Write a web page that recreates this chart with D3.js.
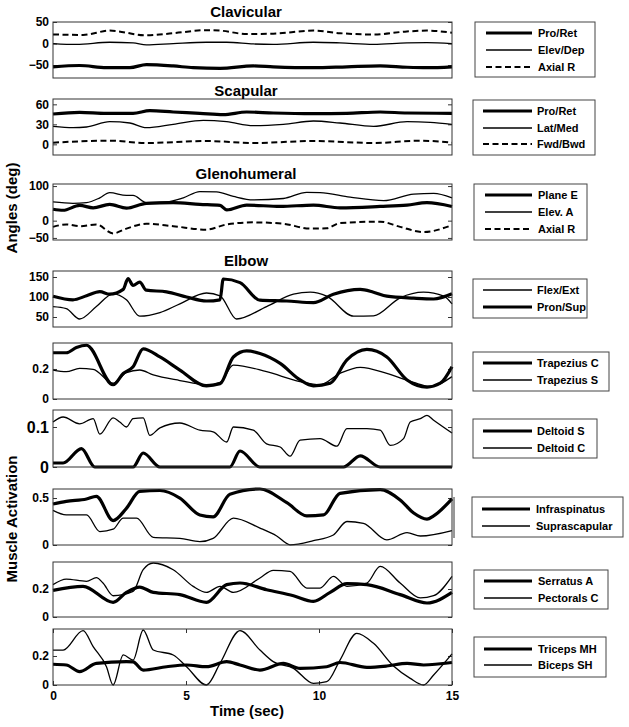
<!DOCTYPE html>
<html>
<head>
<meta charset="utf-8">
<script src="https://cdn.jsdelivr.net/npm/d3@7"></script>
<style>
  html, body { margin: 0; padding: 0; background: #fff; }
  svg { display: block; }
  text { font-family: "Liberation Sans", Arial, sans-serif; font-weight: bold; fill: #000; }
</style>
</head>
<body>
<svg id="chart" width="629" height="727"></svg>
<script>
// ---------------- DATA (time in sec, value) ----------------
const timeTicks = [0, 5, 10, 15];

// Clavicular (deg)
const clavProRet = [[0,-54],[1.0,-51],[2.01,-56],[2.89,-56],[3.51,-49],[4.52,-52],[5.27,-56],[6.28,-57.5],[7.53,-52],[8.28,-54],[9.79,-56],[11.05,-54],[12.3,-52],[13.31,-55],[14.06,-56],[15,-54]];
const clavElevDep = [[0,0],[0.88,-2],[2.13,3],[3.01,1.5],[3.51,-3],[4.52,0],[5.77,3],[6.53,3],[7.53,-1],[8.28,-2],[9.79,3],[10.79,1.5],[12.05,-2],[13.31,1.5],[14.06,2],[15,0]];
const clavAxialR = [[0,21],[1.13,20],[2.13,30],[3.51,19],[4.52,24],[5.77,31],[6.28,30],[7.28,22],[8.28,23],[9.79,30],[10.79,24],[12.05,21],[13.3,28],[14.06,30],[15,25]];

// Scapular (deg)
const scapProRet = [[0,45.5],[1.0,48],[2.01,46.5],[3.01,46.5],[3.64,50.5],[4.52,48.5],[5.52,46.5],[6.4,44.5],[7.28,48.5],[8.28,47],[9.79,46],[11.05,46.5],[12.3,48.5],[13.31,47],[15,46.5]];
const scapLatMed = [[0,27],[0.75,25],[1.26,26],[2.13,34],[2.89,32],[3.51,25],[4.52,30],[5.65,36],[6.53,34],[7.53,28],[8.66,30],[9.79,35],[10.79,32],[12.05,27],[13.31,34],[14.18,33],[15,30]];
const scapFwdBwd = [[0,2.5],[2.13,5.5],[3.51,2],[5.77,5],[7.53,2],[9.79,5],[12.05,2],[13.81,5.5],[15,2.5]];

// Glenohumeral (deg)
const ghPlaneE = [[0,33],[0.38,30],[1.0,44],[1.51,37],[2.13,47],[2.76,36],[3.51,50],[4.52,52],[5.52,47],[6.28,44],[6.53,31],[7.28,45],[8.54,41],[9.79,45],[10.79,37],[12.3,41],[13.31,45],[14.06,52],[15,41]];
const ghElevA = [[0,54],[0.75,50],[1.26,52],[1.76,66],[2.13,81],[2.76,73],[3.01,73],[3.51,52],[4.27,54],[4.9,66],[5.52,84],[6.15,83],[6.78,70],[7.53,60],[8.66,64],[9.54,82],[10.04,81],[11.17,68],[12.43,58],[13.56,77],[14.31,79],[15,66]];
const ghAxialR = [[0,-18],[0.5,-11],[1.0,-16],[1.63,-11],[2.26,-37],[2.76,-23],[3.51,-9],[4.52,-16],[5.77,-26],[6.53,-11],[7.53,-5],[8.66,-9],[9.67,-23],[10.29,-22],[10.79,-7],[12.3,-3],[13.05,-18],[13.93,-33],[15,-13]];

// Elbow (deg)
const elbFlexExt = [[0,76],[0.5,71],[1.0,45],[1.63,76],[2.26,108],[2.76,93],[3.26,52],[4.02,61],[4.77,83],[5.77,110],[6.28,103],[6.9,45],[8.03,76],[9.04,107],[9.67,112],[10.29,102],[11.3,52],[12.05,53],[13.05,98],[13.93,112],[14.69,102],[15,83]];
const elbPronSup = [[0,102],[0.75,93],[1.26,103],[1.76,113.5],[2.13,107],[2.64,119],[2.82,146],[3.01,129],[3.26,137],[3.51,117],[4.27,113],[5.02,100],[5.77,90],[6.28,93],[6.4,145],[7.03,136],[7.78,92],[8.79,90],[9.79,86],[10.54,107],[11.55,119],[12.05,112],[12.55,102],[13.56,97],[14.31,95],[15,108]];

// Muscle activations
const trapeziusC = [[0,0.308],[0.5,0.308],[0.88,0.343],[1.26,0.358],[2.26,0.095],[2.64,0.17],[3.01,0.215],[3.39,0.334],[4.02,0.28],[4.77,0.193],[5.77,0.088],[6.28,0.101],[6.78,0.28],[7.28,0.32],[7.78,0.303],[8.54,0.237],[9.29,0.127],[9.79,0.088],[10.42,0.105],[11.05,0.26],[11.8,0.33],[12.55,0.28],[13.31,0.127],[14.06,0.079],[14.56,0.105],[15,0.215]];
const trapeziusS = [[0,0.193],[0.5,0.182],[1.0,0.204],[1.51,0.198],[2.26,0.105],[2.76,0.176],[3.26,0.193],[3.77,0.16],[4.77,0.123],[5.77,0.095],[6.28,0.11],[6.78,0.226],[8.03,0.182],[9.29,0.116],[10.04,0.095],[10.79,0.171],[11.55,0.211],[12.55,0.171],[13.56,0.11],[14.18,0.084],[15,0.149]];

const deltoidS = [[0,0.01],[0.38,0.01],[1.07,0.046],[1.57,0],[3.01,0],[3.39,0.035],[4.02,0],[6.65,0],[7.03,0.04],[7.78,0],[10.92,0],[11.55,0.028],[12.3,0],[15,0]];
const deltoidC = [[0,0.1125],[0.38,0.125],[1.0,0.108],[1.51,0.121],[1.76,0.082],[2.26,0.123],[2.51,0.1125],[2.76,0.1],[3.01,0.121],[3.39,0.123],[3.64,0.079],[4.02,0.098],[4.77,0.11],[5.52,0.092],[6.02,0.088],[6.53,0.0625],[6.78,0.1],[7.53,0.092],[8.03,0.058],[8.54,0.05],[8.91,0.027],[9.29,0.067],[10.04,0.071],[10.67,0.052],[11.05,0.096],[11.8,0.096],[12.3,0.092],[12.68,0.054],[13.18,0.071],[13.43,0.1125],[13.81,0.121],[14.06,0.129],[14.31,0.117],[15,0.085]];

const infraspinatus = [[0,0.436],[0.5,0.464],[1.26,0.49],[1.63,0.518],[2.26,0.26],[2.76,0.39],[3.26,0.57],[4.02,0.58],[4.77,0.5],[5.52,0.32],[6.02,0.30],[6.65,0.54],[7.78,0.596],[8.79,0.45],[9.54,0.31],[10.17,0.32],[10.79,0.55],[12.3,0.59],[13.05,0.48],[13.56,0.34],[14.06,0.275],[14.31,0.31],[15,0.49]];
const suprascapular = [[0,0.368],[0.5,0.32],[1.26,0.32],[1.76,0.143],[2.26,0.168],[2.64,0.286],[3.14,0.286],[3.77,0.082],[4.77,0.071],[5.52,0.036],[6.02,0.071],[6.78,0.286],[7.78,0.18],[8.41,0.096],[8.91,0.002],[9.79,0.046],[10.54,0.107],[11.05,0.25],[11.67,0.23],[12.55,0.054],[13.31,0.132],[13.81,0.096],[15,0.154]];

const serratusA = [[0,0.19],[1.13,0.219],[2.26,0.105],[2.76,0.176],[3.26,0.214],[3.77,0.176],[4.77,0.16],[5.77,0.105],[6.53,0.231],[7.03,0.243],[8.03,0.195],[9.04,0.152],[9.79,0.112],[10.42,0.176],[11.05,0.238],[11.8,0.231],[13.05,0.16],[14.06,0.1],[15,0.176]];
const pectoralsC = [[0,0.231],[0.5,0.271],[1.26,0.255],[1.63,0.281],[1.88,0.243],[2.26,0.152],[3.01,0.183],[3.39,0.338],[3.77,0.386],[4.52,0.338],[5.27,0.219],[5.77,0.176],[6.28,0.219],[6.78,0.176],[7.78,0.279],[8.28,0.333],[8.91,0.326],[9.54,0.207],[10.04,0.207],[10.54,0.29],[11.05,0.219],[11.8,0.243],[12.3,0.362],[13.05,0.243],[13.81,0.136],[14.31,0.152],[15,0.29]];

const tricepsMH = [[0,0.143],[0.5,0.138],[1.0,0.092],[1.63,0.149],[2.76,0.161],[3.01,0.159],[3.39,0.103],[4.27,0.126],[5.02,0.138],[5.77,0.126],[6.53,0.161],[7.03,0.138],[7.78,0.103],[8.66,0.149],[9.29,0.115],[10.29,0.126],[10.79,0.155],[11.8,0.122],[12.55,0.131],[13.31,0.149],[13.93,0.138],[15,0.155]];
const bicepsSH = [[0,0.241],[0.38,0.241],[1.13,0.375],[1.51,0.264],[2.01,0.126],[2.26,0],[2.64,0.207],[3.01,0.172],[3.39,0.379],[3.77,0.241],[4.52,0.207],[5.02,0.126],[5.77,0],[6.28,0.149],[7.03,0.375],[7.78,0.241],[8.28,0.161],[9.04,0.115],[9.79,0.011],[10.29,0.023],[10.79,0.172],[11.42,0.356],[12.05,0.287],[12.8,0.131],[13.43,0.046],[13.93,0],[14.31,0.069],[15,0.214]];

// Panel titles, tick values and legend labels
const panelTitles = ["Clavicular", "Scapular", "Glenohumeral", "Elbow", "", "", "", "", ""];
const yTickValues = [[-50,0,50],[0,30,60],[-50,0,100],[50,100,150],[0,0.2],[0,0.1],[0,0.5],[0,0.2],[0,0.2]];
const yDomains = [[-80,50],[-16,68],[-56,106],[25,165],[0,0.373],[0,0.1425],[0,0.596],[0,0.393],[0,0.386]];
const legendLabels = [
  ["Pro/Ret","Elev/Dep","Axial R"],
  ["Pro/Ret","Lat/Med","Fwd/Bwd"],
  ["Plane E","Elev. A","Axial R"],
  ["Flex/Ext","Pron/Sup"],
  ["Trapezius C","Trapezius S"],
  ["Deltoid S","Deltoid C"],
  ["Infraspinatus","Suprascapular"],
  ["Serratus A","Pectorals C"],
  ["Triceps MH","Biceps SH"]
];
const panelSeries = [
  [clavProRet, clavElevDep, clavAxialR],
  [scapProRet, scapLatMed, scapFwdBwd],
  [ghPlaneE, ghElevA, ghAxialR],
  [elbFlexExt, elbPronSup],
  [trapeziusC, trapeziusS],
  [deltoidS, deltoidC],
  [infraspinatus, suprascapular],
  [serratusA, pectoralsC],
  [tricepsMH, bicepsSH]
];
// line styles: thick / thin / dashed
const panelStyles = [
  ["thick","thin","dash"],["thick","thin","dash"],["thick","thin","dash"],
  ["thin","thick"],["thick","thin"],["thick","thin"],["thick","thin"],["thick","thin"],["thick","thin"]
];

// ---------------- LAYOUT ----------------
const panelBox = [[22,78],[99,155],[184,240],[271,327],[343,399],[410,467],[489,545],[562,617],[629,685]];
const titleBaselines = [17, 96, 179, 266];
const legendBoxes = [
  {x0:475,x1:595,y0:22,y1:77,rows:[33,50,67],lx0:486,lx1:532,tx:538},
  {x0:473,x1:595,y0:100,y1:155,rows:[111,128,144],lx0:483,lx1:532,tx:537},
  {x0:474,x1:587,y0:184,y1:240,rows:[195,212,229],lx0:485,lx1:532,tx:538},
  {x0:473,x1:587,y0:279,y1:318,rows:[290,307],lx0:483,lx1:532,tx:537},
  {x0:473,x1:609,y0:352,y1:391,rows:[363,380],lx0:483,lx1:532,tx:537},
  {x0:473,x1:597,y0:419,y1:458,rows:[431,448],lx0:483,lx1:532,tx:537},
  {x0:472,x1:623,y0:497,y1:537,rows:[509,526],lx0:482,lx1:530,tx:536},
  {x0:474,x1:608,y0:570,y1:609,rows:[581,598],lx0:484,lx1:532,tx:538},
  {x0:474,x1:606,y0:637,y1:677,rows:[649,665],lx0:484,lx1:532,tx:538}
];
const styleAttrs = {
  thick: {w: 3.2, dash: null},
  thin:  {w: 1.3, dash: null},
  dash:  {w: 2.0, dash: "6,3.5"}
};

const svg = d3.select("#chart");
const x = d3.scaleLinear().domain([0, 15]).range([53, 452]);

panelBox.forEach((box, i) => {
  const y = d3.scaleLinear().domain(yDomains[i]).range([box[1], box[0]]);
  const g = svg.append("g");
  const fs = (i === 5) ? 16 : 12;

  // left axis (ticks inside) with labels
  const axL = d3.axisLeft(y).tickValues(yTickValues[i]).tickSize(-4).tickPadding(4)
    .tickFormat(d3.format("~g"));
  const gl = g.append("g").attr("transform", `translate(${x(0)},0)`).call(axL);
  gl.select(".domain").remove();
  gl.selectAll("line").attr("stroke", "#333");
  gl.selectAll("text").style("font-size", fs + "px").style("font-family", '"Liberation Sans", Arial, sans-serif').style("font-weight", "bold").attr("fill", "#000");

  // right axis ticks inside
  const axR = d3.axisRight(y).tickValues(yTickValues[i]).tickSize(-4).tickFormat("");
  const gr = g.append("g").attr("transform", `translate(${x(15)},0)`).call(axR);
  gr.select(".domain").remove();
  gr.selectAll("line").attr("stroke", "#333");

  // bottom panel: x axis
  if (i === panelBox.length - 1) {
    const axB = d3.axisBottom(x).tickValues(timeTicks).tickSize(-4).tickPadding(6).tickFormat(d3.format("d"));
    const gb = g.append("g").attr("transform", `translate(0,${box[1]})`).call(axB);
    gb.select(".domain").remove();
    gb.selectAll("line").attr("stroke", "#333");
    gb.selectAll("text").style("font-size", "12px").style("font-family", '"Liberation Sans", Arial, sans-serif').style("font-weight", "bold").attr("fill", "#000");
    const axT = d3.axisTop(x).tickValues(timeTicks).tickSize(-4).tickFormat("");
    const gt = g.append("g").attr("transform", `translate(0,${box[0]})`).call(axT);
    gt.select(".domain").remove();
    gt.selectAll("line").attr("stroke", "#333");
  }

  // series lines
  const line = d3.line().x(d => x(d[0])).y(d => y(d[1])).curve(d3.curveMonotoneX);
  panelSeries[i].forEach((s, k) => {
    const st = styleAttrs[panelStyles[i][k]];
    g.append("path").datum(s).attr("d", line)
      .attr("fill", "none").attr("stroke", "#000")
      .attr("stroke-width", st.w)
      .attr("stroke-linejoin", "round")
      .attr("stroke-dasharray", st.dash);
  });

  // box
  g.append("rect").attr("x", x(0)).attr("y", box[0])
    .attr("width", x(15) - x(0)).attr("height", box[1] - box[0])
    .attr("fill", "none").attr("stroke", "#333").attr("stroke-width", 1);

  // title
  if (panelTitles[i]) {
    g.append("text").attr("x", 246).attr("y", titleBaselines[i])
      .attr("text-anchor", "middle").style("font-size", "15px").text(panelTitles[i]);
  }

  // legend
  const lb = legendBoxes[i];
  const lg = svg.append("g");
  lg.append("rect").attr("x", lb.x0).attr("y", lb.y0)
    .attr("width", lb.x1 - lb.x0).attr("height", lb.y1 - lb.y0)
    .attr("fill", "#fff").attr("stroke", "#444").attr("stroke-width", 1);
  legendLabels[i].forEach((lab, k) => {
    const st = styleAttrs[panelStyles[i][k]];
    const yy = lb.rows[k];
    lg.append("line").attr("x1", lb.lx0).attr("x2", lb.lx1).attr("y1", yy).attr("y2", yy)
      .attr("stroke", "#000").attr("stroke-width", st.w).attr("stroke-dasharray", st.dash);
    lg.append("text").attr("x", lb.tx).attr("y", yy).attr("dy", "0.35em")
      .style("font-size", "11px").text(lab);
  });
});

// small vertical mark to the right of the infraspinatus panel
svg.append("line").attr("x1", 454).attr("x2", 454).attr("y1", 497).attr("y2", 538)
  .attr("stroke", "#333").attr("stroke-width", 1);

// axis titles
svg.append("text").attr("transform", "translate(17,208) rotate(-90)")
  .attr("text-anchor", "middle").style("font-size", "15px").text("Angles (deg)");
svg.append("text").attr("transform", "translate(17,519) rotate(-90)")
  .attr("text-anchor", "middle").style("font-size", "15px").text("Muscle Activation");
svg.append("text").attr("x", 247).attr("y", 716)
  .attr("text-anchor", "middle").style("font-size", "15px").text("Time (sec)");
</script>
</body>
</html>
